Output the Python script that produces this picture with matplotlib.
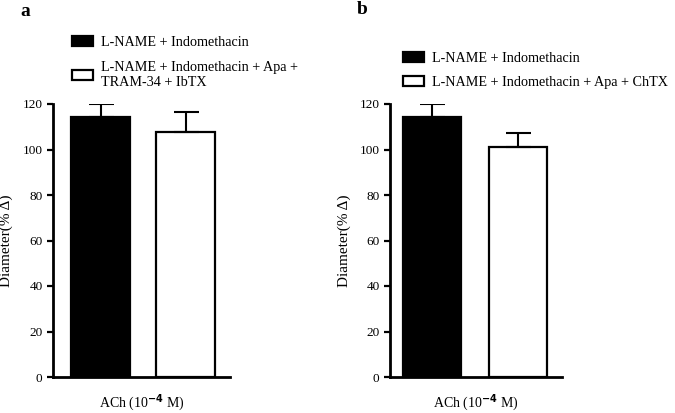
import numpy as np
import matplotlib
matplotlib.use("Agg")
from matplotlib import pyplot as plt
from matplotlib.patches import Patch

plt.rcParams['font.family'] = 'Liberation Serif'

# data
labels_a = ['L-NAME + Indomethacin',
            'L-NAME + Indomethacin + Apa +\nTRAM-34 + IbTX']
means_a = [114.3, 107.8]
errs_a = [5.5, 8.5]

labels_b = ['L-NAME + Indomethacin',
            'L-NAME + Indomethacin + Apa + ChTX']
means_b = [114.2, 100.9]
errs_b = [5.8, 6.3]

colors = ['black', 'white']
yticks = [0, 20, 40, 60, 80, 100, 120]

fig = plt.figure(figsize=(6.75, 4.13), dpi=100)


def panel(rect, means, errs, labels, letter, letter_xy, xlim, width,
          leg_anchor, leg_space, ylab_x):
    ax = fig.add_axes(rect)
    x = np.arange(len(means))
    ax.bar(x, means, width=width, color=colors, edgecolor='black', linewidth=1.6)
    ax.errorbar(x, means, yerr=[np.zeros(len(errs)), errs], fmt='none',
                ecolor='black', elinewidth=1.5, capsize=9, capthick=1.5)
    ax.set_xlim(*xlim)
    ax.set_ylim(0, 120)
    ax.set_yticks(yticks)
    ax.set_xticks([])
    for s in ['top', 'right']:
        ax.spines[s].set_visible(False)
    for s in ['left', 'bottom']:
        ax.spines[s].set_linewidth(2)
    ax.tick_params(axis='y', width=1.6, length=4.5, labelsize=9.5, pad=3)
    ax.set_xlabel('ACh (10$^{\\mathbf{-4}}$ M)', fontsize=10, labelpad=11)
    ax.set_ylabel('Diameter(% Δ)', fontsize=11)
    ax.yaxis.set_label_coords(ylab_x, 0.5)
    handles = [Patch(facecolor=c, edgecolor='black', linewidth=1.6) for c in colors]
    fig.legend(handles, labels, loc='upper left', bbox_to_anchor=leg_anchor,
               frameon=False, fontsize=10.2, handlelength=1.5, handleheight=0.7,
               labelspacing=leg_space, handletextpad=0.55, borderpad=0)
    fig.text(letter_xy[0], letter_xy[1], letter, fontsize=14, fontweight='bold',
             ha='center', va='center')
    return ax


panel([53 / 675, 1 - 377 / 413, 177 / 675, 273 / 413], means_a, errs_a, labels_a,
      'a', (25 / 675, 1 - 11 / 413), (-0.556, 1.515), 0.69,
      (65 / 675, 1 - 29 / 413), 0.85, -0.226)
panel([390 / 675, 1 - 377 / 413, 172 / 675, 273 / 413], means_b, errs_b, labels_b,
      'b', (362 / 675, 1 - 10 / 413), (-0.49, 1.51), 0.67,
      (396 / 675, 1 - 45 / 413), 0.75, -0.227)

fig.savefig('out.png', dpi=100)
